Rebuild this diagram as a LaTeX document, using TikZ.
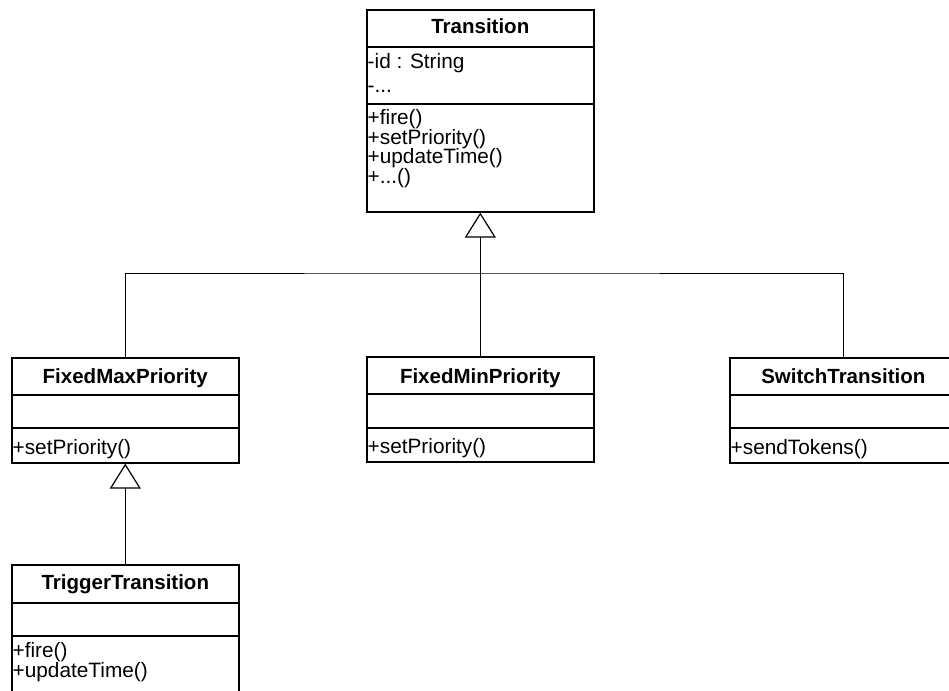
\documentclass[tikz,border=0pt]{standalone}
\usepackage{fontspec}
\setmainfont{Liberation Sans}
\usetikzlibrary{arrows.meta}
\begin{document}
\begin{tikzpicture}[x=1pt,y=-1pt,
  cls/.style={draw, line width=1.6pt, rectangle, anchor=north west,
    minimum width=227pt, inner sep=0pt},
  hdr/.style={anchor=base, inner sep=0pt, font=\fontsize{20.5}{24}\selectfont\bfseries},
  mem/.style={anchor=base west, inner sep=0pt, text height=14pt, text depth=4pt,
    font=\fontsize{20.8}{24}\selectfont},
  divider/.style={line width=1.6pt},
  conn/.style={line width=1pt},
  gen/.style={line width=1pt, -{Triangle[open, length=25pt, width=31pt, line width=1.2pt]}}]
\useasboundingbox (0,0) rectangle (949,690);
\clip (0,0) rectangle (949,690);

% class boxes
\node[cls, minimum height=202pt] (T) at (366,9) {};
\node[cls, minimum height=105pt] (fmax) at (11,357) {};
\node[cls, minimum height=105pt] (fmin) at (366,356) {};
\node[cls, minimum height=105pt] (sw) at (729,357) {};
\node[cls, minimum height=140pt] (trig) at (11,564) {};

% compartment dividers
\draw[divider] ([yshift=-38pt]T.north west) -- ([yshift=-38pt]T.north east);
\draw[divider] ([yshift=-95pt]T.north west) -- ([yshift=-95pt]T.north east);
\draw[divider] ([yshift=-38pt]fmax.north west) -- ([yshift=-38pt]fmax.north east);
\draw[divider] ([yshift=-71pt]fmax.north west) -- ([yshift=-71pt]fmax.north east);
\draw[divider] ([yshift=-38pt]fmin.north west) -- ([yshift=-38pt]fmin.north east);
\draw[divider] ([yshift=-72pt]fmin.north west) -- ([yshift=-72pt]fmin.north east);
\draw[divider] ([yshift=-38pt]sw.north west) -- ([yshift=-38pt]sw.north east);
\draw[divider] ([yshift=-71pt]sw.north west) -- ([yshift=-71pt]sw.north east);
\draw[divider] ([yshift=-39pt]trig.north west) -- ([yshift=-39pt]trig.north east);
\draw[divider] ([yshift=-72pt]trig.north west) -- ([yshift=-72pt]trig.north east);

% class names
\node[hdr] (Tname) at ([yshift=-25pt]T.north) {Transition};
\node[hdr] (fmaxname) at ([yshift=-26pt]fmax.north) {FixedMaxPriority};
\node[hdr] (fminname) at ([yshift=-27pt]fmin.north) {FixedMinPriority};
\node[hdr] (swname) at ([yshift=-26pt]sw.north) {SwitchTransition};
\node[hdr] (trigname) at ([yshift=-25pt]trig.north) {TriggerTransition};

% members
\node[mem] (Ta1) at ([xshift=1.5pt,yshift=-60pt]T.north west) {-id : String};
\node[mem] (Ta2) at ([xshift=1.5pt,yshift=-84pt]T.north west) {-...};
\node[mem] (Tm1) at ([xshift=1.5pt,yshift=-115.5pt]T.north west) {+fire()};
\node[mem] (Tm2) at ([xshift=1.5pt,yshift=-135.2pt]T.north west) {+setPriority()};
\node[mem] (Tm3) at ([xshift=1.5pt,yshift=-154.9pt]T.north west) {+updateTime()};
\node[mem] (Tm4) at ([xshift=1.5pt,yshift=-174.6pt]T.north west) {+...()};
\node[mem] (fmaxm1) at ([xshift=1.5pt,yshift=-97pt]fmax.north west) {+setPriority()};
\node[mem] (fminm1) at ([xshift=1.5pt,yshift=-97pt]fmin.north west) {+setPriority()};
\node[mem] (swm1) at ([xshift=1.5pt,yshift=-97pt]sw.north west) {+sendTokens()};
\node[mem] (trigm1) at ([xshift=1.5pt,yshift=-93.6pt]trig.north west) {+fire()};
\node[mem] (trigm2) at ([xshift=1.5pt,yshift=-113.3pt]trig.north west) {+updateTime()};

% generalisation connectors
\coordinate (bus) at (479.5,273);
\draw[gen] (fmin.north) -- (T.south);
\draw[conn] (fmax.north) |- (bus) -| (sw.north);
\draw[gen] (trig.north) -- (fmax.south);
\end{tikzpicture}
\end{document}
